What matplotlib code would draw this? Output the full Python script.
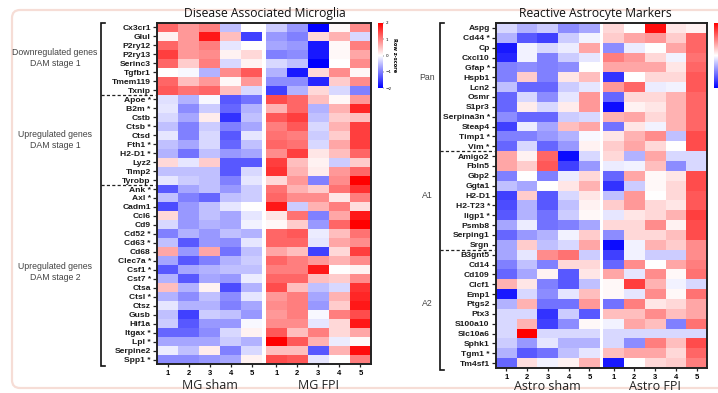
import numpy as np
import matplotlib
matplotlib.use('Agg')
import matplotlib.pyplot as plt
from matplotlib.patches import FancyBboxPatch

# ---- data (row z-scores) ----
mg_genes = ['Cx3cr1', 'Glul', 'P2ry12', 'P2ry13', 'Serinc3', 'Tgfbr1', 'Tmem119', 'Txnip',
            'Apoe', 'B2m', 'Cstb', 'Ctsb', 'Ctsd', 'Fth1', 'H2-D1', 'Lyz2', 'Timp2', 'Tyrobp',
            'Ank', 'Axl', 'Cadm1', 'Ccl6', 'Cd9', 'Cd52', 'Cd63', 'Cd68', 'Clec7a', 'Csf1',
            'Cst7', 'Ctsa', 'Ctsl', 'Ctsz', 'Gusb', 'Hif1a', 'Itgax', 'Lpl', 'Serpine2', 'Spp1']
mg_stars = ['Apoe', 'B2m', 'Ctsb', 'Fth1', 'H2-D1', 'Ank', 'Axl', 'Cd52', 'Cd63', 'Clec7a',
            'Csf1', 'Cst7', 'Ctsl', 'Itgax', 'Lpl', 'Spp1']
mg_groups = ['Downregulated genes\nDAM stage 1', 'Upregulated genes\nDAM stage 1',
             'Upregulated genes\nDAM stage 2']
mg_group_sizes = [8, 10, 20]

mg_sham = [
    [1.2, 0.8, 1.0, -0.5, 0.0], [0.1, 0.8, 1.8, 0.5, -1.5], [1.2, 0.8, 1.0, -0.2, 0.0],
    [1.5, 0.8, 0.9, 0.1, 0.3], [1.2, 0.4, 1.0, -0.3, 0.1], [0.0, -0.05, -0.6, 0.9, 1.3],
    [1.2, 0.5, 0.8, 0.05, 0.8], [1.3, 1.1, 1.2, 0.5, -0.3],
    [-0.25, -0.6, -0.05, -1.3, -1.1], [-0.2, -0.9, -0.4, -1.2, -0.6], [-0.3, -0.7, 0.15, -1.6, -0.5],
    [-0.5, -1.0, -0.4, -1.0, -0.7], [-0.2, -1.0, -0.3, -1.3, -0.2], [-0.5, -0.7, -0.3, -1.2, -0.5],
    [-0.6, -1.1, -0.5, -0.8, -0.7], [0.3, -0.2, 0.4, -1.3, -1.3], [-0.5, -0.5, -0.5, -1.3, -0.3],
    [-0.2, -0.4, -0.5, -1.0, -0.2],
    [-1.3, -0.7, -0.5, -0.8, -0.4], [-0.5, -1.0, -1.2, -0.5, -0.4], [-1.4, -0.8, -0.5, -0.2, 0.0],
    [0.3, -0.8, -0.5, -0.7, -0.2], [-0.3, -0.8, -0.6, -0.7, -0.1], [-1.0, -0.6, -0.8, -0.5, -0.6],
    [-0.5, -1.3, -0.8, -0.9, -0.2], [0.7, -0.8, 0.7, -1.1, -0.5], [-0.7, -1.3, -1.0, -0.6, -0.4],
    [-1.3, -0.7, -0.6, -0.5, -0.5], [-0.6, -1.3, -0.7, -0.8, -0.15], [0.5, -0.6, 0.1, -1.4, -0.6],
    [-0.6, -0.9, -0.5, -0.9, -0.2], [-0.2, -0.6, -0.6, -1.0, -0.7], [-0.5, -1.5, -0.4, -0.5, -0.8],
    [-0.4, -1.3, -0.8, -0.8, -0.05], [-1.2, -1.2, -0.9, -0.3, 0.1], [-0.7, -0.7, -0.7, -0.4, -0.6],
    [-0.15, -0.5, 0.15, -1.0, -0.3], [-0.9, -0.9, -0.8, -0.7, 0.1],
]
mg_fpi = [
    [-0.4, -0.8, -2.0, 0.05, 0.9], [-0.8, -1.0, 0.3, 0.6, -0.3], [-0.7, -0.8, -1.8, 0.05, 1.0],
    [-1.0, -0.9, -1.8, 0.05, 0.7], [-0.3, -0.5, -2.0, 0.0, 0.9], [-0.6, -1.8, 0.3, 0.9, 0.05],
    [-0.9, -0.9, -1.7, 0.4, 0.9], [-1.5, -0.6, 0.3, -0.3, -1.0],
    [1.4, 1.2, 0.5, 0.05, 0.8], [0.6, 1.2, -0.6, 0.6, 1.7], [1.3, 1.5, -0.5, 0.4, 0.5],
    [1.0, 1.3, -0.3, 0.6, 1.5], [1.1, 1.0, -0.4, 0.4, 1.5], [1.2, 1.1, -0.3, 0.7, 1.5],
    [0.9, 1.5, 0.2, 0.5, 1.2], [1.5, 0.5, 0.1, -0.4, 0.4], [1.6, 0.6, 0.15, 0.8, 1.2],
    [0.3, 0.8, -1.0, 0.9, 2.0],
    [1.1, 0.6, 0.4, 1.1, 1.6], [1.2, 0.9, 0.9, 0.2, 1.0], [1.8, -0.4, 0.6, 1.0, 0.25],
    [0.2, 1.1, -1.0, 0.7, 1.8], [0.05, 0.4, -0.8, 1.2, 2.0], [1.2, 1.3, -0.15, 0.5, 1.1],
    [1.2, 1.2, -0.2, 0.7, 0.9], [0.7, 0.5, -1.5, 0.3, 1.5], [1.2, 1.0, 0.8, 0.6, 0.9],
    [1.0, 1.0, 1.8, 0.0, 0.1], [1.2, 1.2, 0.5, 0.4, 0.9], [1.4, 0.5, -0.5, -0.3, 1.6],
    [0.8, 1.0, -0.7, 0.6, 1.7], [0.9, 1.0, -0.8, 0.4, 1.8], [0.8, 1.0, -0.05, 1.0, 1.4],
    [0.9, 0.9, -0.2, 0.3, 1.8], [1.3, 0.5, 1.0, 0.3, 0.7], [2.0, 1.3, 0.6, -0.15, 0.05],
    [0.5, 0.5, -1.3, 0.6, 1.9], [1.4, 1.3, -0.2, 0.0, 1.0],
]

astro_genes = ['Aspg', 'Cd44', 'Cp', 'Cxcl10', 'Gfap', 'Hspb1', 'Lcn2', 'Osmr', 'S1pr3',
               'Serpina3n', 'Steap4', 'Timp1', 'Vim',
               'Amigo2', 'Fbln5', 'Gbp2', 'Ggta1', 'H2-D1', 'H2-T23', 'Iigp1', 'Psmb8',
               'Serping1', 'Srgn',
               'B3gnt5', 'Cd14', 'Cd109', 'Clcf1', 'Emp1', 'Ptgs2', 'Ptx3', 'S100a10',
               'Slc10a6', 'Sphk1', 'Tgm1', 'Tm4sf1']
astro_stars = ['Cd44', 'Gfap', 'Serpina3n', 'Timp1', 'Vim', 'H2-T23', 'Iigp1', 'Tgm1']
astro_groups = ['Pan', 'A1', 'A2']
astro_group_sizes = [13, 10, 12]

astro_sham = [
    [-0.3, -0.6, -0.4, -0.9, -0.7], [-0.6, -1.3, -1.5, -0.4, -0.1], [-1.8, -0.1, -0.3, -0.15, 0.7],
    [-1.7, -0.1, -1.0, -0.4, -0.2], [-1.0, -0.9, -1.0, -0.9, 0.0], [-1.0, 0.4, -1.0, 0.2, 0.5],
    [-0.5, -1.2, -1.2, -0.4, -0.2], [-1.2, -0.3, -0.9, -0.2, 0.8], [-1.2, 0.15, -0.3, 0.15, 0.8],
    [-0.9, -1.2, -1.2, -0.4, -0.3], [-1.5, -0.15, -0.7, 0.5, 0.7], [-1.0, -1.0, -0.8, -0.6, -0.05],
    [-1.2, -0.3, -1.2, -0.8, 0.1],
    [0.7, 0.1, 1.2, -1.9, -0.3], [0.7, 0.4, 1.3, -1.5, -0.8], [-1.0, 0.0, -1.0, -0.15, 0.3],
    [-0.5, -0.7, 0.0, 0.2, 0.6], [-1.5, 0.4, -1.3, -0.3, 0.2], [-1.4, -0.6, -1.3, -0.5, 0.1],
    [-1.3, -0.6, -1.1, -0.4, 0.05], [-0.7, -0.15, -1.1, -1.0, -0.7], [-1.2, -0.8, -0.6, -0.1, 0.4],
    [-0.7, 0.4, -0.5, -0.3, 0.7],
    [-0.7, -0.2, 0.9, 1.1, -0.4], [-1.0, -0.5, -1.0, 0.3, 0.3], [-1.2, -0.7, 0.1, -1.3, 0.2],
    [0.6, 0.2, -1.0, -1.3, -0.5], [-1.8, -0.3, -0.9, -0.2, 0.5], [-0.6, 0.6, -1.1, -1.1, 0.8],
    [-0.3, -0.3, -1.6, -0.4, -1.3], [-0.3, 0.6, -1.5, -0.9, 0.05], [-0.3, 2.0, -0.3, -0.3, -0.3],
    [-0.4, -0.8, -0.2, -0.6, -0.6], [-0.6, -1.3, -1.1, -0.5, -0.2], [-1.2, 0.25, -0.1, 0.1, 0.6],
]
astro_fpi = [
    [0.3, 0.0, 1.9, 0.2, 0.1], [0.4, 0.7, 0.8, 0.4, 1.2], [-0.9, -0.15, 0.0, 0.7, 1.2],
    [1.0, 0.8, 0.3, -0.1, 1.1], [0.7, 0.7, 0.7, 0.2, 1.2], [-1.6, 0.0, 0.3, 0.3, 1.3],
    [0.8, 1.2, -0.15, -0.1, 1.3], [-1.2, 0.3, 0.3, 0.6, 1.2], [-1.9, 0.1, 0.2, 0.6, 1.2],
    [0.6, 0.7, 0.3, 0.6, 1.2], [-1.1, 0.2, -0.1, 0.6, 1.2], [0.2, 0.6, 0.9, -0.5, 1.4],
    [0.4, 0.7, 0.3, 0.0, 1.4],
    [0.3, -0.6, 0.7, -0.3, -0.3], [-0.15, -0.1, 0.5, -0.9, -0.3], [-1.2, 0.7, 0.05, 0.2, 1.4],
    [-1.6, -0.4, 0.05, 0.3, 1.4], [-0.5, 0.8, 0.0, 0.3, 1.3], [0.4, 0.8, 0.3, 0.2, 1.3],
    [-0.2, 0.2, 0.3, 0.6, 1.5], [0.3, 0.3, 0.9, 0.1, 1.4], [-0.9, 0.3, 0.3, 0.5, 1.4],
    [-1.9, -0.1, 0.6, 0.4, 0.9],
    [-1.5, -0.1, -0.4, -0.4, 0.9], [-1.2, 0.9, 0.0, 0.7, 1.0], [0.7, -0.2, 0.9, 0.05, 1.1],
    [0.05, 1.5, 0.6, -0.1, -0.3], [0.05, -0.2, 0.9, 0.05, 1.1], [-1.1, 1.0, 0.2, 0.3, 0.7],
    [0.5, 0.5, 0.9, 0.5, 0.7], [-0.1, 0.7, 0.5, -1.0, 1.1], [-0.3, -0.3, -0.3, -0.3, -0.3],
    [-0.3, -0.9, 1.0, 0.5, 1.4], [0.5, 0.7, 0.7, 0.3, 1.2], [-1.8, 0.0, 0.3, 0.4, 1.0],
]

# ---- layout (pixels) ----
W, H = 718, 393
fig = plt.figure(figsize=(W / 100, H / 100), dpi=100)
fig.patch.set_facecolor('white')

bg = fig.add_axes([0, 0, 1, 1], zorder=-5)
bg.set_xlim(0, W)
bg.set_ylim(H, 0)
bg.axis('off')
bg.add_patch(FancyBboxPatch((12, 10), 760, 378, boxstyle='round,pad=0,rounding_size=8',
                            fc='white', ec='#f6ddd6', lw=1.6))

lab_font = ['Liberation Sans', 'DejaVu Sans']
ttl_font = ['Open Sans', 'DejaVu Sans']
cmap = plt.get_cmap('bwr').copy()
cmap.set_bad('white')
gap = 0.17


def heatmap(box, sham, fpi, genes, stars, groups, sizes, title, title_x, cond, cond_y,
            brk_x, lab_x, lab_pos, cbar_box, cbar_text=True):
    x0, y0, x1, y1 = box
    ax = fig.add_axes([x0 / W, 1 - y1 / H, (x1 - x0) / W, (y1 - y0) / H])
    n = len(genes)
    data = np.column_stack([np.array(sham), np.full(n, np.nan), np.array(fpi)])
    xe = np.r_[np.arange(6), np.arange(6) + 5 + gap]
    mesh = ax.pcolormesh(xe, np.arange(n + 1), data, cmap=cmap, vmin=-2, vmax=2)
    ax.set_xlim(0, 10 + gap)
    ax.set_ylim(n, 0)
    for s in ax.spines.values():
        s.set_linewidth(1.4)
        s.set_color('#222222')
    ax.set_yticks(np.arange(n) + 0.5)
    ax.set_yticklabels([g + (' *' if g in stars else '') for g in genes],
                       fontsize=6.1, fontweight='bold', family=lab_font, color='#1a1a1a')
    xc = np.r_[np.arange(5) + 0.5, np.arange(5) + 5.5 + gap]
    ax.set_xticks(xc)
    ax.set_xticklabels([str(i) for i in range(1, 6)] * 2, fontsize=5.5,
                       fontweight='bold', family=lab_font)
    ax.tick_params(axis='y', length=3, width=0.9, pad=1.5, color='#222222')
    ax.tick_params(axis='x', length=2.5, width=0.9, pad=1.5, color='#222222')

    rh = (y1 - y0) / n
    colw = (x1 - x0) / (10 + gap)
    bg.text(title_x, y0 - 3, title, ha='center', va='bottom', fontsize=8.7,
            family=ttl_font, color='#111111')

    # bracket and group separators
    bg.plot([brk_x + 4, brk_x, brk_x, brk_x + 4], [y0, y0, y1 + 2, y1 + 2],
            color='#111111', lw=1.2, solid_joinstyle='miter')
    bounds = np.cumsum(sizes)[:-1]
    for b in bounds:
        yy = y0 + b * rh
        bg.plot([brk_x, x0 - 2], [yy, yy], color='#222222', lw=0.9, ls=(0, (2.5, 1.8)))
    for g, yy in zip(groups, lab_pos):
        bg.text(lab_x, yy, g, ha='center', va='center', fontsize=6.3,
                family=lab_font, color='#444444', linespacing=1.25)

    # condition labels
    for k, c in enumerate(cond):
        cx = x0 + (2.5 + k * (5 + gap)) * colw
        bg.text(cx, cond_y, c, ha='center', va='bottom', fontsize=9, family=ttl_font,
                color='#222222')

    cax = fig.add_axes([cbar_box[0] / W, 1 - cbar_box[3] / H,
                        (cbar_box[2] - cbar_box[0]) / W, (cbar_box[3] - cbar_box[1]) / H])
    cb = fig.colorbar(mesh, cax=cax, ticks=[-2, -1, 0, 1, 2])
    cb.outline.set_linewidth(0)
    if cbar_text:
        cax.tick_params(labelsize=3, length=1, width=0.3, pad=1)
        cb.set_label('Row z-score', rotation=270, fontsize=3.6, labelpad=4, fontweight='bold')
    else:
        cax.tick_params(labelright=False, length=0)
    return ax


heatmap((157, 23, 371, 364), mg_sham, mg_fpi, mg_genes, mg_stars, mg_groups,
        mg_group_sizes, 'Disease Associated Microglia', 265, ['MG sham', 'MG FPI'], 392,
        101, 55, [58, 140, 272], (378, 23, 383, 88))
heatmap((496, 23, 707, 368), astro_sham, astro_fpi, astro_genes, astro_stars,
        astro_groups, astro_group_sizes, 'Reactive Astrocyte Markers', 595,
        ['Astro sham', 'Astro FPI'], 392.5, 440, 427, [77, 196, 304], (714, 23, 719, 88),
        cbar_text=False)

fig.savefig('out.png', dpi=100, facecolor='white')
